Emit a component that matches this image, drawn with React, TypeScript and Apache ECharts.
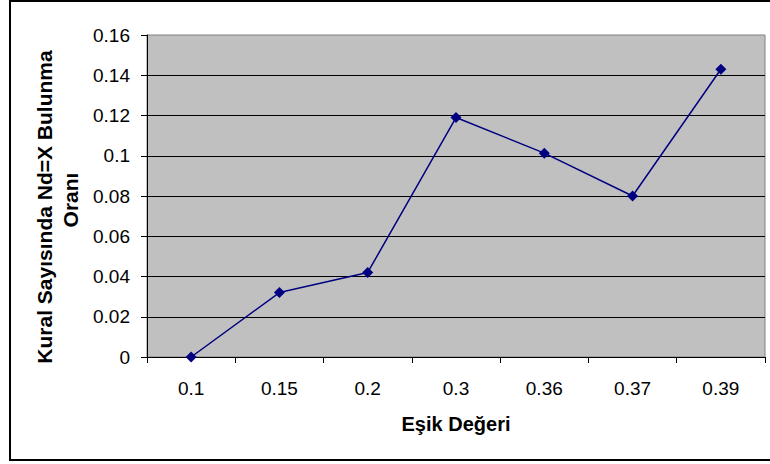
import React, { useEffect, useRef } from "react";
import * as echarts from "echarts";

const categories = ["0.1", "0.15", "0.2", "0.3", "0.36", "0.37", "0.39"];
const values = [0, 0.032, 0.042, 0.119, 0.1013, 0.08, 0.143];
const yTitleLine1 = "Kural Sayısında Nd=X Bulunma";
const yTitleLine2 = "Oranı";
const xTitle = "Eşik Değeri";

export default function App() {
  const ref = useRef<HTMLDivElement>(null);
  useEffect(() => {
    if (!ref.current) return;
    const chart = echarts.init(ref.current, null, { renderer: "svg" });
    const font = "'Liberation Sans', Arial, sans-serif";
    chart.setOption({
      animation: false,
      backgroundColor: "#ffffff",
      textStyle: { fontFamily: font },
      grid: {
        left: 147,
        top: 35,
        right: 5,
        bottom: 107,
        show: true,
        backgroundColor: "#C0C0C0",
        borderColor: "#808080",
        borderWidth: 1,
      },
      xAxis: {
        type: "category",
        data: categories,
        boundaryGap: true,
        name: xTitle,
        nameLocation: "middle",
        nameGap: 57,
        nameTextStyle: { fontFamily: font, fontSize: 20, fontWeight: "bold", color: "#000" },
        axisLine: { show: true, lineStyle: { color: "#000", width: 1 } },
        axisTick: { show: true, alignWithLabel: false, length: 6, lineStyle: { color: "#000" } },
        axisLabel: { fontFamily: font, fontSize: 19, color: "#000", margin: 22 },
        splitLine: { show: false },
      },
      yAxis: {
        type: "value",
        min: 0,
        max: 0.16,
        interval: 0.02,
        axisLine: { show: true, lineStyle: { color: "#000", width: 1 } },
        axisTick: { show: true, length: 6, lineStyle: { color: "#000" } },
        axisLabel: {
          fontFamily: font,
          fontSize: 19,
          color: "#000",
          margin: 17,
          formatter: (v: number) => String(parseFloat(v.toFixed(2))),
        },
        splitLine: { show: true, showMaxLine: false, lineStyle: { color: "#000", width: 1 } },
      },
      graphic: [
        {
          type: "rect",
          shape: { x: 10, y: 1, width: 770, height: 459 },
          style: { fill: "none", stroke: "#000", lineWidth: 2 },
          silent: true,
        },
        {
          type: "text",
          x: 44,
          y: 207,
          rotation: Math.PI / 2,
          style: {
            text: yTitleLine1,
            fontFamily: font,
            fontSize: 21,
            fontWeight: "bold",
            fill: "#000",
            align: "center",
            verticalAlign: "middle",
          },
        },
        {
          type: "text",
          x: 70,
          y: 200,
          rotation: Math.PI / 2,
          style: {
            text: yTitleLine2,
            fontFamily: font,
            fontSize: 21,
            fontWeight: "bold",
            fill: "#000",
            align: "center",
            verticalAlign: "middle",
          },
        },
      ],
      series: [
        {
          type: "line",
          data: values,
          symbol: "diamond",
          symbolSize: 11,
          lineStyle: { color: "#000080", width: 1.5 },
          itemStyle: { color: "#000080" },
          z: 5,
        },
      ],
    });
    return () => chart.dispose();
  }, []);
  return (
    <div
      ref={ref}
      style={{ position: "fixed", left: 0, top: 0, width: 770, height: 464 }}
    />
  );
}
